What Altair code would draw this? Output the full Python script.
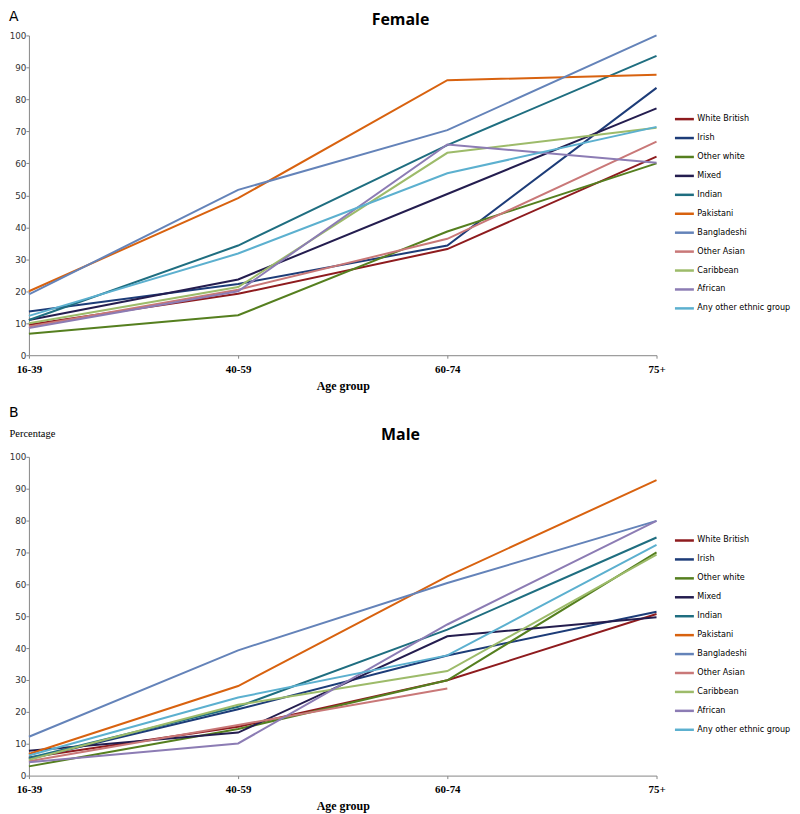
import altair as alt
import pandas as pd

ages = ["16-39", "40-59", "60-74", "75+"]
groups = ["White British", "Irish", "Other white", "Mixed", "Indian", "Pakistani",
          "Bangladeshi", "Other Asian", "Caribbean", "African", "Any other ethnic group"]
colors = ["#8e1b1e", "#1d3c78", "#557f1f", "#241d4f", "#1f6e80", "#d8620f",
          "#6483b9", "#c97878", "#9dbb6a", "#8c7cb4", "#5cb0cf"]

# Female (percentage by age group)
f_white_british = [9.5, 19.2, 33.2, 62.1]
f_irish = [13.7, 22.3, 34.3, 83.6]
f_other_white = [6.7, 12.5, 38.7, 60.0]
f_mixed = [11.0, 23.7, 50.4, 77.2]
f_indian = [11.0, 34.3, 65.7, 93.6]
f_pakistani = [20.0, 49.1, 86.0, 87.7]
f_bangladeshi = [19.0, 51.7, 70.4, 100.0]
f_other_asian = [9.0, 20.5, 36.4, 66.8]
f_caribbean = [10.0, 21.3, 63.3, 71.1]
f_african = [8.5, 20.0, 65.9, 60.2]
f_any_other = [12.3, 31.8, 56.9, 71.4]

# Male (percentage by age group)
m_white_british = [5.7, 15.3, 29.9, 50.7]
m_irish = [5.2, 20.8, 37.7, 51.4]
m_other_white = [2.9, 14.6, 29.9, 70.0]
m_mixed = [7.8, 13.5, 43.7, 49.7]
m_indian = [5.5, 21.6, 45.8, 74.7]
m_pakistani = [6.8, 28.1, 62.5, 92.7]
m_bangladeshi = [12.2, 39.3, 60.4, 79.9]
m_other_asian = [4.5, 15.9, 27.3, None]
m_caribbean = [5.0, 22.2, 32.8, 69.3]
m_african = [4.2, 10.1, 47.4, 79.9]
m_any_other = [6.3, 24.5, 37.7, 72.4]

female_series = [f_white_british, f_irish, f_other_white, f_mixed, f_indian, f_pakistani,
                 f_bangladeshi, f_other_asian, f_caribbean, f_african, f_any_other]
male_series = [m_white_british, m_irish, m_other_white, m_mixed, m_indian, m_pakistani,
               m_bangladeshi, m_other_asian, m_caribbean, m_african, m_any_other]


def frame(series):
    rows = []
    for g, vals in zip(groups, series):
        for a, v in zip(ages, vals):
            if v is not None:
                rows.append({"age": a, "group": g, "pct": v})
    return pd.DataFrame(rows)


def panel(df, title, title_y, letter, letter_y, ytitle, height):
    x = alt.X("age:N", sort=ages, scale=alt.Scale(domain=ages, padding=0),
              axis=alt.Axis(title="Age group", labelAngle=0, labelFont="Liberation Serif",
                            labelFontWeight="bold", labelFontSize=11, labelColor="#000",
                            labelPadding=5, tickSize=3, tickColor="#868686",
                            domainColor="#868686", titleFont="Liberation Serif",
                            titleFontWeight="bold", titleFontSize=12, titleColor="#000",
                            titlePadding=6))
    yaxis_kw = dict(values=list(range(0, 101, 10)), grid=False, tickSize=3, labelPadding=0,
                    labelFont="DejaVu Sans", labelFontSize=8.8, labelColor="#333",
                    domainColor="#868686", tickColor="#868686")
    if ytitle:
        yaxis_kw.update(title=ytitle, titleAngle=0, titleFont="Liberation Serif",
                        titleFontSize=10.5, titleFontWeight="normal", titleColor="#000",
                        titleX=-20, titleY=-23, titleAlign="left", titleBaseline="middle")
    else:
        yaxis_kw.update(title="")
    y = alt.Y("pct:Q", scale=alt.Scale(domain=[0, 100], nice=False), axis=alt.Axis(**yaxis_kw))
    color = alt.Color("group:N", sort=groups, scale=alt.Scale(domain=groups, range=colors),
                      legend=alt.Legend(title=None, orient="none", legendX=647, legendY=73,
                                        symbolType="stroke", symbolSize=361,
                                        symbolStrokeWidth=2.5, labelFont="DejaVu Sans",
                                        labelFontSize=8.1, labelColor="#000", labelOffset=2,
                                        rowPadding=3, padding=0, offset=0))
    lines = alt.Chart(df).mark_line(strokeWidth=2).encode(x=x, y=y, color=color)
    lab = alt.Chart(pd.DataFrame({"t": [letter]})).mark_text(
        align="left", baseline="top", fontSize=14, font="DejaVu Sans", color="#000"
    ).encode(x=alt.value(-20), y=alt.value(letter_y), text="t:N")
    ttl = alt.Chart(pd.DataFrame({"t": [title]})).mark_text(
        align="center", baseline="top", fontSize=16, font="Open Sans", fontWeight="bold",
        color="#000"
    ).encode(x=alt.value(373), y=alt.value(title_y), text="t:N")
    return alt.layer(lines, lab, ttl).properties(width=630, height=height)


top = panel(frame(female_series), "Female", -23, "A", -25, None, 321)
bottom = panel(frame(male_series), "Male", -29.5, "B", -51, "Percentage", 320)

chart = alt.vconcat(top, bottom, spacing=13).resolve_scale(color="independent").resolve_legend(
    color="independent").properties(padding=0, background="white").configure_view(
    stroke="transparent")

chart.save("out.html", embed_options={"renderer": "svg", "actions": False})
